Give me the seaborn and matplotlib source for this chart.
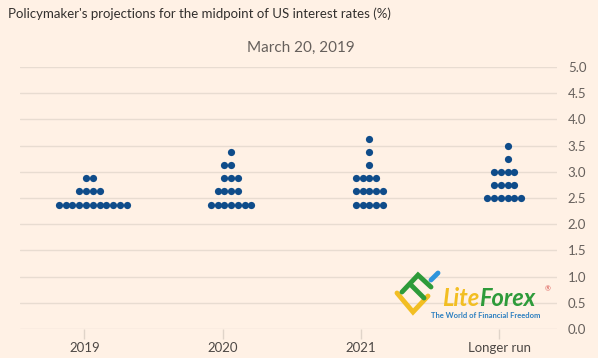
import pandas as pd
import numpy as np
import matplotlib.pyplot as plt
import seaborn as sns
from matplotlib.transforms import ScaledTranslation
from matplotlib.lines import Line2D

# dot plot data: projected rate of each participant
cats = ['2019', '2020', '2021', 'Longer run']
rates_2019 = [2.375] * 11 + [2.625] * 4 + [2.875] * 2
rates_2020 = [2.375] * 7 + [2.625] * 4 + [2.875] * 3 + [3.125] * 2 + [3.375]
rates_2021 = [2.375] * 5 + [2.625] * 5 + [2.875] * 4 + [3.125] + [3.375] + [3.625]
rates_long = [2.5] * 6 + [2.75] * 4 + [3.0] * 4 + [3.25] + [3.5]
yticks = [0.0, 0.5, 1.0, 1.5, 2.0, 2.5, 3.0, 3.5, 4.0, 4.5, 5.0]

df = pd.DataFrame({
    'period': ['2019'] * len(rates_2019) + ['2020'] * len(rates_2020)
              + ['2021'] * len(rates_2021) + ['Longer run'] * len(rates_long),
    'rate': rates_2019 + rates_2020 + rates_2021 + rates_long,
})

bg = '#FFF1E5'
sns.set_theme(style='white')
plt.rcParams['font.family'] = ['Lato', 'DejaVu Sans']

fig = plt.figure(figsize=(5.98, 3.58), dpi=100, facecolor=bg)
ax = fig.add_axes([0.033, 0.081, 0.898, 0.732], facecolor=bg)

for t in yticks:
    ax.axhline(t, color='#E8DCD1', lw=1, zorder=0)

sns.swarmplot(data=df, x='period', y='rate', order=cats, color='#0F4C8A',
              size=4.9, ax=ax, zorder=3)

ax.set_ylim(0, 5)
ax.set_xlim(-0.467, 3.416)

# let seaborn lay out the swarm, then pack the dots so they touch
fig.canvas.draw()
for i, c in enumerate(ax.collections):
    if 'draw' in c.__dict__:
        del c.draw
    off = c.get_offsets().copy()
    off[:, 0] = i + (off[:, 0] - i) * 0.95
    c.set_offsets(off)
    c.set_sizes([27])
    # dots sit a little right of the category tick in the original
    c.set_offset_transform(ax.transData + ScaledTranslation(0.085, 0, fig.dpi_scale_trans))

ax.set_yticks(yticks)
ax.set_yticklabels([f'{t:.1f}' for t in yticks])
ax.yaxis.tick_right()
ax.tick_params(axis='y', length=0, pad=8, labelsize=9.5, labelcolor='#66605C')
ax.tick_params(axis='x', bottom=True, length=7, width=1, color='#E0D4C9', pad=2,
               labelsize=9.5, labelcolor='#4D4845')
ax.set_xlabel('')
ax.set_ylabel('')
for s in ax.spines.values():
    s.set_visible(False)

fig.text(0.013, 0.961, "Policymaker's projections for the midpoint of US interest rates (%)",
         fontsize=9.5, color='#33302E', va='center')
fig.text(0.503, 0.865, 'March 20, 2019', fontsize=11, color='#66605C', ha='center', va='center')

# watermark
def px(x, y):
    return x / 598, 1 - y / 358

for pts, col in [([(397, 293), (413, 312), (428, 296)], '#F2BE22'),
                 ([(402, 292), (418, 275), (431, 287)], '#2E9B3A'),
                 ([(410, 284), (424, 298)], '#2E9B3A'),
                 ([(431, 280), (438, 273)], '#2F95DC')]:
    xs, ys = zip(*[px(*p) for p in pts])
    fig.add_artist(Line2D(xs, ys, transform=fig.transFigure, color=col, lw=3.5,
                          solid_capstyle='round', solid_joinstyle='miter'))
lite = fig.text(*px(442, 299), 'Lite', fontsize=17, color='#F2BE22', fontweight='bold',
                style='italic', ha='left', va='center')
bb = lite.get_window_extent(fig.canvas.get_renderer())
fig.text(bb.x1 / fig.bbox.width, 1 - 299 / 358, 'Forex', fontsize=17, color='#2E9B3A',
         fontweight='bold', style='italic', ha='left', va='center')
fig.text(*px(545, 289), '®', fontsize=5, color='#D9534F', va='center')
fig.text(*px(486, 315), 'The World of Financial Freedom', fontsize=5.5, color='#2C7FC0',
         fontweight='bold', ha='center', va='center')

fig.savefig('out.png', dpi=100, facecolor=bg)
